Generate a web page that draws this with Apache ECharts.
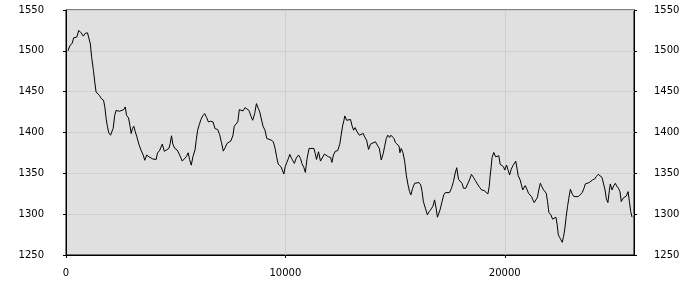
<!DOCTYPE html>
<html>
<head>
<meta charset="utf-8">
<script src="https://cdn.jsdelivr.net/npm/echarts@6/dist/echarts.min.js"></script>
<style>html,body{margin:0;padding:0;background:#fff;}#c{width:700px;height:300px;}</style>
</head>
<body>
<div id="c"></div>
<script>
var xValues = [90,180,280,350,430,490,580,690,790,880,980,1070,1110,1170,1250,1310,1370,1430,1520,1610,1710,1770,1830,1890,1950,2030,2090,2150,2220,2280,2350,2440,2530,2630,2700,2760,2850,2920,2970,3030,3090,3150,3230,3320,3430,3520,3590,3680,3780,3870,3960,4050,4110,4170,4260,
4290,4390,4480,4570,4690,4750,4810,4870,4960,5070,5180,5300,5390,5480,5570,5630,5710,5790,5880,5940,6000,6080,6150,6230,6320,6410,6490,6590,6700,6790,6850,6910,7000,7090,7170,7250,7340,7430,7520,7610,7670,7760,7830,7900,7990,8070,8160,8250,8340,8430,8510,8600,8680,
8770,8830,8900,8980,9070,9150,9220,9350,9450,9530,9600,9670,9740,9800,9860,9930,9990,10060,10140,10200,10280,10340,10410,10500,10600,10690,10750,10840,10910,10990,11080,11170,11300,11360,11420,11510,11600,11690,11780,11870,11960,12060,12120,12190,12280,12380,12420,12480,12540,12600,12670,12710,12790,12880,12970,
13040,13110,13180,13270,13370,13460,13550,13610,13700,13790,13880,13970,14100,14190,14280,14370,14460,14520,14600,14670,14750,14810,14890,14950,15020,15100,15180,15220,15280,15360,15440,15510,15590,15660,15720,15800,15890,15980,16090,16170,16230,16290,16380,16470,16560,16650,16730,16800,16870,16930,16990,17050,17140,17220,17290,17380,
17480,17570,17660,17730,17810,17890,17960,18050,18120,18220,18310,18390,18480,18570,18660,18750,18850,18940,19060,19150,19230,19290,19330,19380,19420,19500,19580,19650,19730,19790,19870,19940,20000,20080,20140,20220,20290,20370,20430,20500,20570,20610,20700,20760,20820,20870,20930,21010,21080,21160,21220,21280,21340,21420,21490,21550,21620,21690,21770,
21890,21950,22010,22100,22180,22250,22330,22390,22440,22500,22560,22620,22680,22740,22800,22860,22920,22990,23060,23150,23240,23350,23440,23530,23610,23670,23760,23850,23910,24000,24100,24170,24260,24350,24430,24520,24570,24630,24700,24770,24810,24890,24960,25040,25100,25180,25250,25310,25390,25470,25540,25620,25680,25740,25800];
var yValues = [1500,1506.5,1509,1516,1518,1516.7,1525,1522,1518,1521.5,1522,1520,1508.5,1492,1476,1462,1449.6,1451.6,1445.5,1441.5,1439.5,1431.3,1417,1407,1399.6,1396.7,1394.7,1405,1421,1427,1429,1426,1428,1428,1431.3,1421,1418,1407.7,1398.8,1405,1407.7,1401.6,1394.7,1385.8,1377.6,1372.4,1366,1372.4,1370.3,1368.3,1367.5,1367,1367,1375,1377.6,
1376.4,1385.8,1377,1377.6,1380.5,1386.6,1396,1385.8,1380.5,1378.5,1372.4,1365,1365.4,1370.3,1375.2,1367,1360,1371,1378.5,1391.5,1402.8,1410,1415.9,1420.3,1423.2,1418.3,1413,1413.8,1413,1404.9,1406,1403.7,1397.6,1387.4,1377.2,1381.3,1386.6,1386.6,1389.8,1396.7,1407.7,1406.9,1413,1428,1427,1426.4,1430.5,1430.5,1427,1420,1415,1423.2,1435.4,
1429.3,1425.2,1424,1407.7,1402.8,1392.7,1390.7,1390.7,1388.6,1380.5,1370.3,1361.4,1360,1358,1354,1349.2,1358,1363,1368.3,1373.2,1368.3,1366.3,1362.2,1369,1372.4,1368.3,1362.2,1357.3,1351.2,1368.3,1380.5,1380.5,1380.5,1374.4,1367,1376.4,1365,1365,1373.6,1371.5,1370.3,1369.5,1363.4,1372.4,1377.2,1377.6,1375.6,1385.8,1396.7,1406.9,1415,1420.3,1415,1417,1415.9,
1408,1402.8,1406,1400.8,1396.7,1398,1398.8,1394.7,1390.7,1379.3,1385.8,1386.6,1388.6,1384.5,1380.5,1366.3,1374.4,1382.5,1392.7,1396.7,1393.9,1396.7,1398.8,1392.7,1387.4,1389.8,1383.3,1375.2,1380.5,1375.2,1364.2,1348,1335.8,1327.6,1323.6,1331.7,1337.8,1338.7,1338.7,1335.8,1327.6,1315.4,1307.3,1299.2,1303.3,1306.5,1310.2,1317.5,1307.3,1296.3,1296.3,1305.3,1315.4,1323.6,1326.4,1326.4,
1326.4,1331.7,1339.8,1349.2,1356.9,1342.7,1343.9,1337.8,1331.7,1331.7,1331.7,1341.9,1348.8,1345.1,1341.1,1337,1332.9,1329.7,1328.9,1327.6,1324.8,1333.7,1345.9,1358.1,1369.5,1375.6,1370.3,1371.1,1371.5,1361,1360.2,1358.1,1354,1360.2,1354.9,1348,1354.9,1359.3,1361.4,1365,1354,1347.2,1341.9,1335.8,1329.7,1331.7,1335,1330.5,1325.6,1323.6,1321.5,1317.5,1314.2,1317.5,1320.7,1329.7,1337.8,1333.7,1329.7,
1325.6,1315.4,1302,1299.2,1293.9,1293.1,1296.3,1287,1274.8,1271.5,1268.7,1265.5,1272.8,1282.9,1297.2,1309.4,1319.5,1330.5,1325.6,1321.5,1321.5,1321.5,1322.8,1326.4,1331.7,1337,1337.8,1338.7,1339.8,1341.9,1343.1,1346,1348.8,1348.8,1345.1,1346.7,1329.7,1318.7,1314.2,1329.7,1337,1329.7,1334.6,1337.8,1334.6,1331.7,1327.6,1315.4,1319.5,1320.7,1322.3,1327.6,1315.4,1303.3,1296.3];
var xTicks = [0, 10000, 20000];
var yMin = 1250, yMax = 1550, yStep = 50;
var xMin = 0, xMax = 25890;

var seriesData = xValues.map(function (x, i) { return [x, yValues[i]]; });
var font = 'DejaVu Sans';
function plain(v) { return String(v); }
function yAxisCfg(pos, margin) {
  return {
    type: 'value', position: pos, min: yMin, max: yMax, interval: yStep,
    axisLine: { show: true, lineStyle: { color: '#000', width: 1 } },
    axisTick: { show: true, length: 3, lineStyle: { color: '#000' } },
    axisLabel: { color: '#000', fontFamily: font, fontSize: 10, margin: margin, formatter: plain },
    splitLine: { show: pos === 'left', lineStyle: { color: '#cfcfcf', width: 1 } }
  };
}
var chart = echarts.init(document.getElementById('c'), null, { renderer: 'canvas' });
chart.setOption({
  animation: false,
  grid: { left: 66, right: 66, top: 10, bottom: 45, show: true, backgroundColor: '#e0e0e0', borderColor: '#000', borderWidth: 1 },
  xAxis: {
    type: 'value', min: xMin, max: xMax,
    axisLine: { show: true, onZero: false, lineStyle: { color: '#000', width: 1 } },
    axisTick: { show: true, length: 3, lineStyle: { color: '#000' }, customValues: xTicks },
    axisLabel: { color: '#000', fontFamily: font, fontSize: 10, margin: 13, customValues: xTicks, formatter: plain },
    splitLine: { show: true, lineStyle: { color: '#cfcfcf', width: 1 } }
  },
  yAxis: [yAxisCfg('left', 22), yAxisCfg('right', 20)],
  series: [{
    type: 'line', data: seriesData, showSymbol: false, symbol: 'none',
    lineStyle: { color: '#000', width: 1 }, z: 5
  }]
});
</script>
</body>
</html>
